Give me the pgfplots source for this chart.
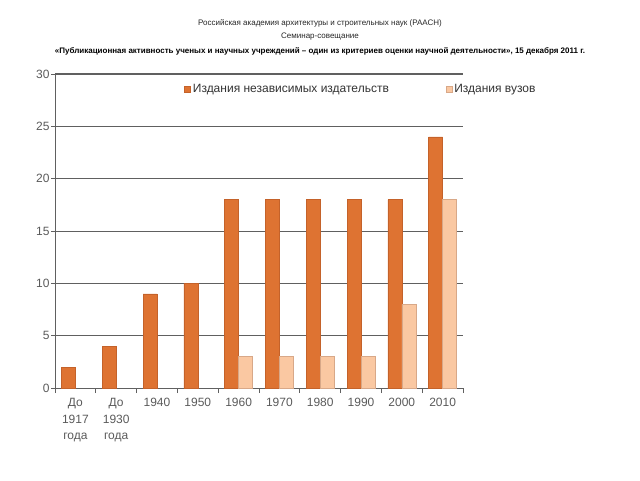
\documentclass[border=0pt]{standalone}
\usepackage{pgfplots}
\pgfplotsset{compat=1.18}
\usepackage{fontspec}
\setmainfont{Liberation Sans}
\definecolor{barA}{HTML}{DE7332}
\definecolor{barAedge}{HTML}{C4622A}
\definecolor{barB}{HTML}{FAC8A2}
\definecolor{barBedge}{HTML}{D8A888}
\definecolor{tickgray}{HTML}{5A5A5A}
\definecolor{gridgray}{HTML}{606060}
\begin{document}
\begin{tikzpicture}[x=1pt,y=1pt]
\path (0,0) rectangle (640,480);
\node[font=\fontsize{8}{9}\selectfont, color=black!85] at (320,457) {Российская академия архитектуры и строительных наук  (РААСН)};
\node[font=\fontsize{8}{9}\selectfont, color=black!85] at (320,443) {Семинар-совещание};
\node[font=\fontsize{8}{9}\selectfont\bfseries] at (320,429) {«Публикационная активность ученых и научных учреждений –  один из критериев оценки научной деятельности», 15 декабря 2011 г.};
\begin{axis}[
  at={(55pt,92pt)}, anchor=south west,
  scale only axis, width=408pt, height=314pt,
  /pgf/number format/assume math mode=true,
  ybar=0pt, bar width=14pt,
  xmin=-0.5, xmax=9.5, ymin=0, ymax=30,
  axis x line=bottom, axis y line=left,
  axis line style={-, draw=gridgray, line width=1pt},
  xtick={0,...,9},
  xticklabels={{До\\1917\\года},{До\\1930\\года},1940,1950,1960,1970,1980,1990,2000,2010},
  xticklabel style={align=center, font=\fontsize{12}{16.5}\selectfont, text=tickgray, yshift=-3pt},
  major x tick style={draw=none},
  minor xtick={-0.5,0.5,...,9.5},
  minor x tick style={draw=gridgray, line width=0.8pt},
  tick align=outside,
  minor tick length=5pt,
  ytick={0,5,...,30},
  yticklabel style={font=\fontsize{12}{14}\selectfont, text=tickgray, xshift=2pt},
  major y tick style={draw=gridgray, line width=0.8pt},
  major tick length=4pt,
  ymajorgrids,
  major grid style={draw=gridgray, line width=1pt},
  extra y ticks={15}, extra y tick labels={},
  extra y tick style={grid style={draw=black, line width=1pt}, major tick length=0pt},
  legend columns=2,
  legend style={at={(0.75,0.952)}, anchor=center, draw=none, fill=none,
    font=\fontsize{12}{14}\selectfont, text=black!80,
    /tikz/every even column/.append style={column sep=55pt}},
  legend image code/.code={\fill[#1] (0pt,-3pt) rectangle (6pt,3pt);},
]
\addplot[fill=barA, draw=barAedge, line width=0.4pt] coordinates {(0,2) (1,4) (2,9) (3,10) (4,18) (5,18) (6,18) (7,18) (8,18) (9,24)};
\addplot[fill=barB, draw=barBedge, line width=0.4pt] coordinates {(4,3) (5,3) (6,3) (7,3) (8,8) (9,18)};
\legend{Издания независимых издательств, Издания вузов}
\end{axis}
\end{tikzpicture}
\end{document}
